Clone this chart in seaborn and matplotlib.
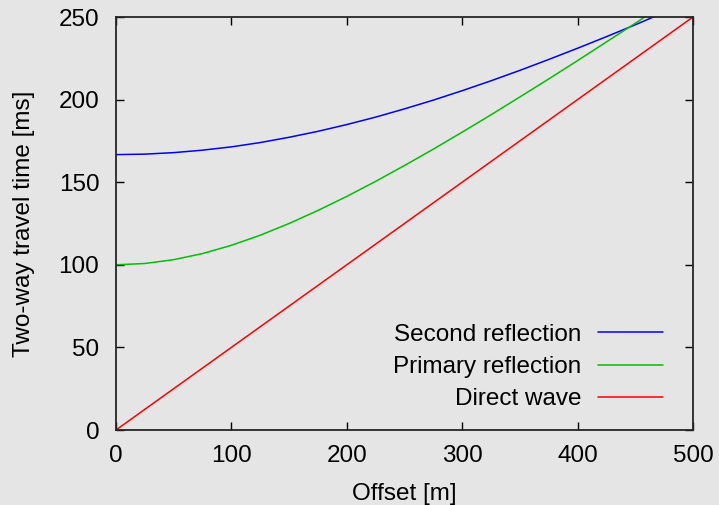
import pandas as pd
import matplotlib
matplotlib.use('Agg')
import matplotlib.pyplot as plt
import seaborn as sns

# offsets [m] and travel times [ms]
offset = [0, 25, 50, 75, 100, 125, 150, 175, 200, 225, 250, 275, 300,
          325, 350, 375, 400, 425, 450, 475]
second = [166.7, 167.0, 167.9, 169.4, 171.4, 174.0, 177.2, 180.8, 184.9, 189.4,
          194.4, 199.7, 205.4, 211.4, 217.7, 224.3, 231.1, 238.1, 245.3, 252.8]
primary = [100.0, 100.8, 103.1, 106.8, 111.8, 117.9, 125.0, 132.9, 141.4, 150.5,
           160.1, 170.0, 180.3, 190.8, 201.6, 212.5, 223.6, 234.9, 246.2, 257.7]
direct_x = [0, 500]
direct_t = [0, 250]

bg = '#e5e5e5'
sns.set_style('ticks', {'axes.facecolor': bg, 'figure.facecolor': bg})
plt.rcParams['font.family'] = ['Liberation Sans', 'DejaVu Sans']
plt.rcParams['text.color'] = 'black'
plt.rcParams['axes.labelcolor'] = 'black'

df = pd.DataFrame({'x': offset, 'second': second, 'primary': primary})
dd = pd.DataFrame({'x': direct_x, 't': direct_t})

fig = plt.figure(figsize=(7.19, 5.05), dpi=100)
ax = fig.add_axes([0.1613, 0.1485, 0.8025, 0.8178])

sns.lineplot(data=df, x='x', y='second', color='#0000ff', lw=1.1, ax=ax, label='Second reflection')
sns.lineplot(data=df, x='x', y='primary', color='#00c000', lw=1.1, ax=ax, label='Primary reflection')
sns.lineplot(data=dd, x='x', y='t', color='#ff0000', lw=1.1, ax=ax, label='Direct wave')

ax.set_xlim(0, 500)
ax.set_ylim(0, 250)
ax.set_xticks(range(0, 501, 100))
ax.set_yticks(range(0, 251, 50))
ax.tick_params(direction='in', top=True, right=True, length=6, width=1,
               labelsize=17.5, colors='black')
ax.tick_params(axis='x', pad=11)
ax.tick_params(axis='y', pad=12)
for s in ax.spines.values():
    s.set_linewidth(1.3)
ax.set_xlabel('Offset [m]', fontsize=17.5, labelpad=11)
ax.set_ylabel('Two-way travel time [ms]', fontsize=17.5, labelpad=17)

leg = ax.legend(loc='lower right', frameon=False, markerfirst=False, fontsize=17.5,
                handlelength=2.67, handletextpad=0.7, labelspacing=0.42,
                borderaxespad=0, bbox_to_anchor=(0.965, 0.024))
leg._legend_box.align = 'right'
for t in leg.get_texts():
    t.set_ha('right')

fig.savefig('out.png', dpi=100, facecolor=bg)
